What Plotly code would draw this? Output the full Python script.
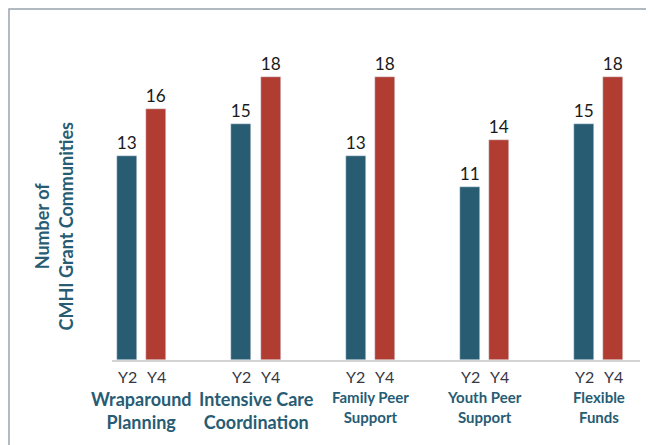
import plotly.graph_objects as go

categories = ["Wraparound<br>Planning", "Intensive Care<br>Coordination",
              "Family Peer<br>Support", "Youth Peer<br>Support", "Flexible<br>Funds"]
cat_font_sizes = [18, 18, 15, 15, 15]
y2_values = [13, 15, 13, 11, 15]
y4_values = [16, 18, 18, 14, 18]
series_names = ["Y2", "Y4"]

TEAL = "#275C73"
RED = "#B03C32"
FONT = "Lato"

pos = list(range(len(categories)))
offset = 0.127
bar_w = 0.175

fig = go.Figure()
for name, vals, color, sign in [("Y2", y2_values, TEAL, -1), ("Y4", y4_values, RED, 1)]:
    xs = [p + sign * offset for p in pos]
    fig.add_trace(go.Bar(
        x=xs, y=vals, width=bar_w, name=name, marker_color=color,
        text=vals, textposition="outside", cliponaxis=False,
        textfont=dict(family=FONT, size=18, color="#1a1a1a"),
    ))
    for x in xs:
        fig.add_annotation(x=x, y=-0.015, xref="x", yref="paper", text=name,
                           showarrow=False, yanchor="top",
                           font=dict(family=FONT, size=16, color="#363644"))

for p, cat, fs in zip(pos, categories, cat_font_sizes):
    fig.add_annotation(x=p, y=-0.08, xref="x", yref="paper", text="<b>" + cat + "</b>",
                       showarrow=False, yanchor="top",
                       font=dict(family=FONT, size=fs, color=TEAL))

fig.add_annotation(x=-0.11, y=0.42, xref="paper", yref="paper",
                   xanchor="center", yanchor="middle",
                   text="<b>Number of<br>CMHI Grant Communities</b>",
                   textangle=-90, showarrow=False,
                   font=dict(family=FONT, size=18, color=TEAL))

# outer frame (runs off the right and bottom edges)
fig.add_shape(type="rect", xref="paper", yref="paper",
              x0=-0.1951, x1=1.5, y0=-1, y1=1.0969,
              line=dict(color="#9aa3ad", width=1.5), layer="below")

# page body adds an 8px margin, so the figure is shrunk and shifted to fit
fig.update_layout(
    width=646, height=437,
    margin=dict(l=104, r=14, t=32, b=85),
    plot_bgcolor="white", paper_bgcolor="white",
    showlegend=False, bargap=0,
    xaxis=dict(range=[-0.26, 4.36], showticklabels=False, showgrid=False,
               zeroline=False, showline=True, linecolor="#d4d4d4", linewidth=2,
               ticks=""),
    yaxis=dict(range=[0, 20.38], visible=False),
)

fig.write_html("out.html")
